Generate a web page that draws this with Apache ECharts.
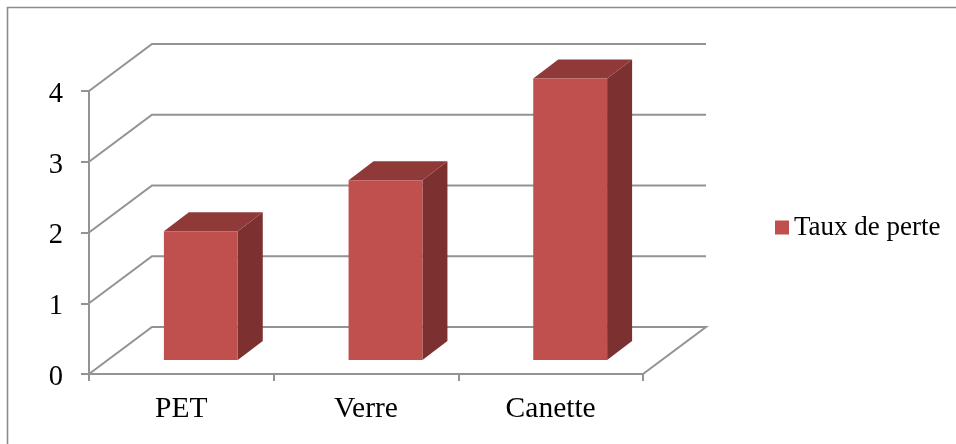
<!DOCTYPE html>
<html>
<head>
<meta charset="utf-8">
<style>html,body{margin:0;padding:0;background:#fff}#chart{width:956px;height:444px}</style>
<script src="https://cdn.jsdelivr.net/npm/echarts@6/dist/echarts.min.js"></script>
</head>
<body>
<div id="chart"></div>
<script>
// Loss rate per packaging type
const categories = ['PET', 'Verre', 'Canette'];
const lossRates = [1.82, 2.54, 3.98];
const yTicks = [0, 1, 2, 3, 4];
const seriesName = 'Taux de perte';

const FONT = '"Liberation Serif", "Times New Roman", serif';
const GRID_COLOR = '#939393';
const LINE_WIDTH = 2;
const FRONT = '#c0504d', TOP = '#8f3a38', SIDE = '#7c3130';

// Oblique projection used for the pseudo-3D chart box and bars
const WALL_DX = 63, WALL_DY = -47;
const BAR_SHIFT_DX = 19.5, BAR_SHIFT_DY = -14;
const BAR_DX = 25, BAR_DY = -19;
const BAR_BAND_RATIO = 0.4;

const chart = echarts.init(document.getElementById('chart'), null, { renderer: 'canvas' });

function wallLine(params, api) {
  const v = api.value(0);
  const g = params.coordSys;
  const y = api.coord([0, v])[1];
  const x0 = g.x, x1 = g.x + g.width;
  const pts = [[x0, y], [x0 + WALL_DX, y + WALL_DY], [x1 + WALL_DX, y + WALL_DY]];
  if (v === 0) pts.push([x1, y]);
  return {
    type: 'polyline',
    shape: { points: pts },
    style: { fill: null, stroke: GRID_COLOR, lineWidth: LINE_WIDTH },
    silent: true
  };
}

function bar3d(params, api) {
  const c = api.coord([api.value(0), api.value(1)]);
  const base = api.coord([api.value(0), 0]);
  const w = api.size([1, 0])[0] * BAR_BAND_RATIO;
  const l = c[0] - w / 2 + BAR_SHIFT_DX, r = l + w;
  const t = c[1] + BAR_SHIFT_DY, b = base[1] + BAR_SHIFT_DY;
  return {
    type: 'group',
    children: [
      { type: 'polygon', shape: { points: [[r, t], [r + BAR_DX, t + BAR_DY], [r + BAR_DX, b + BAR_DY], [r, b]] }, style: { fill: SIDE } },
      { type: 'polygon', shape: { points: [[l, t], [l + BAR_DX, t + BAR_DY], [r + BAR_DX, t + BAR_DY], [r, t]] }, style: { fill: TOP } },
      { type: 'rect', shape: { x: l, y: t, width: w, height: b - t }, style: { fill: FRONT } }
    ]
  };
}

chart.setOption({
  animation: false,
  backgroundColor: '#fff',
  textStyle: { fontFamily: FONT },
  // Frame around the chart: left and top edges only
  graphic: [{
    type: 'polyline',
    shape: { points: [[7.5, 444], [7.5, 7.5], [956, 7.5]] },
    style: { fill: null, stroke: '#8c8c8c', lineWidth: 1.6 },
    silent: true
  }],
  grid: { left: 89, top: 91, width: 554, height: 283 },
  legend: {
    left: 770, top: 209,
    orient: 'vertical',
    itemWidth: 14, itemHeight: 14, itemGap: 0,
    icon: 'rect',
    data: [{ name: seriesName, itemStyle: { color: FRONT } }],
    textStyle: { fontFamily: FONT, fontSize: 27, color: '#000', padding: [2, 0, 0, 0] },
    formatter: n => n
  },
  xAxis: {
    type: 'category',
    data: categories,
    axisLine: { lineStyle: { color: GRID_COLOR, width: LINE_WIDTH } },
    axisTick: { show: true, length: 7, lineStyle: { color: GRID_COLOR, width: LINE_WIDTH } },
    axisLabel: { fontFamily: FONT, fontSize: 29.5, color: '#000', margin: 20 },
    splitLine: { show: false }
  },
  yAxis: {
    type: 'value', min: 0, max: 4, interval: 1,
    axisLine: { show: true, lineStyle: { color: GRID_COLOR, width: LINE_WIDTH } },
    axisTick: { show: true, length: 8, lineStyle: { color: GRID_COLOR, width: LINE_WIDTH } },
    axisLabel: { fontFamily: FONT, fontSize: 28.5, color: '#000', margin: 26, verticalAlign: 'top', lineHeight: 7 },
    splitLine: { show: false }
  },
  series: [
    { type: 'custom', name: 'grid', coordinateSystem: 'cartesian2d', renderItem: wallLine, data: yTicks.map(v => [v]), encode: { y: 0 }, silent: true, z: 1, clip: false },
    { type: 'custom', name: seriesName, coordinateSystem: 'cartesian2d', renderItem: bar3d, itemStyle: { color: FRONT },
      data: categories.map((c, i) => [i, lossRates[i]]), encode: { x: 0, y: 1 }, z: 3, clip: false }
  ]
});
</script>
</body>
</html>
